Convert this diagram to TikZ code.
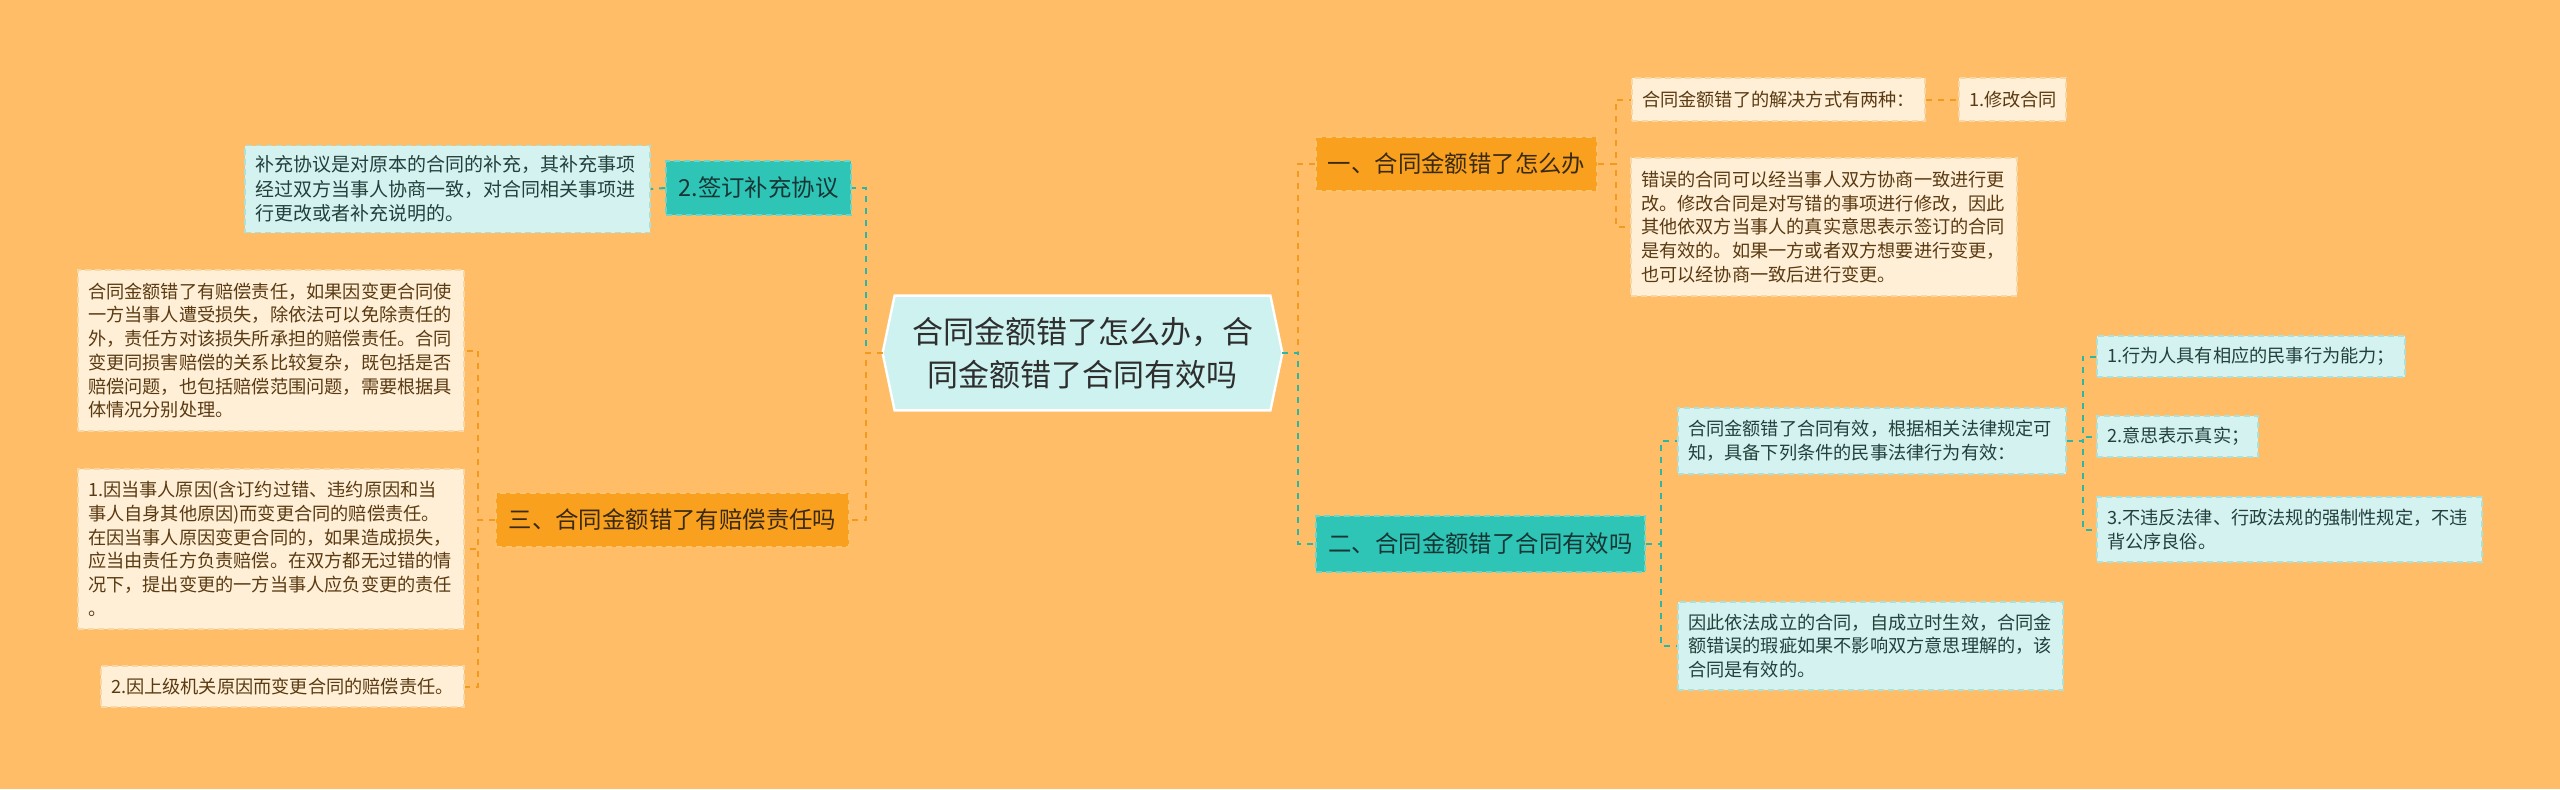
\documentclass[tikz,border=0pt]{standalone}
\usepackage{fontspec}
\setmainfont{Noto Sans CJK SC}
\usetikzlibrary{backgrounds, positioning}
\definecolor{pagebg}{HTML}{FFBD68}
\definecolor{rootfill}{HTML}{CDF2EF}
\definecolor{roottext}{HTML}{2E2E2E}
\definecolor{orangefill}{HTML}{F9A11F}
\definecolor{orangeline}{HTML}{FBC36E}
\definecolor{orangetext}{HTML}{3A2A12}
\definecolor{tealfill}{HTML}{2EC4B6}
\definecolor{tealline}{HTML}{6AD6CB}
\definecolor{tealtext}{HTML}{173633}
\definecolor{creamfill}{HTML}{FFEFD6}
\definecolor{creamline}{HTML}{F6D7A7}
\definecolor{creamtext}{HTML}{5A3A12}
\definecolor{cyanfill}{HTML}{D4F3F0}
\definecolor{cyanline}{HTML}{A9E2DC}
\definecolor{cyantext}{HTML}{24403D}
\definecolor{linkorange}{HTML}{F29A1F}
\definecolor{linkteal}{HTML}{2DB5A6}
\tikzset{
  rootbox/.style={
    rectangle,
    minimum width=199.5pt,
    minimum height=57pt,
    inner sep=0pt,
    align=center,
    text=roottext,
    font=\fontsize{15.5}{21.5}\selectfont
  },
  mainbox/.style={
    rectangle,
    line width=0.8pt,
    dash pattern=on 3pt off 2pt,
    minimum height=27pt,
    inner sep=0pt,
    align=center,
    font=\fontsize{11.7}{14}\selectfont
  },
  orangebox/.style={mainbox, fill=orangefill, draw=orangeline, text=orangetext},
  tealbox/.style={mainbox, fill=tealfill, draw=tealline, text=tealtext},
  leaf/.style={
    rectangle,
    line width=0.7pt,
    dash pattern=on 3pt off 2pt,
    inner xsep=5pt,
    inner ysep=0pt,
    align=left,
    font=\fontsize{9.1}{11.85}\selectfont
  },
  creamleaf/.style={leaf, fill=creamfill, draw=creamline, text=creamtext},
  cyanleaf/.style={leaf, fill=cyanfill, draw=cyanline, text=cyantext},
  linko/.style={draw=linkorange, line width=1pt, dash pattern=on 3pt off 3pt},
  linkt/.style={draw=linkteal, line width=1pt, dash pattern=on 3pt off 3pt}
}

\begin{document}
\begin{tikzpicture}[x=0.5pt, y=-0.5pt]

\begin{scope}[on background layer]
  \fill[pagebg] (0,0) rectangle (2560,789);
\end{scope}
\useasboundingbox (0,0) rectangle (2560,789);

\node[rootbox] (root) at (1082.5,353) {合同金额错了怎么办，合\\同金额错了合同有效吗};

% left side
\node[tealbox, minimum width=92.5pt] (sign) at (758.5,188) {2.签订补充协议};
\node[cyanleaf, text width=192.5pt, minimum height=43.5pt] (supp) at (447.5,189) {\fontsize{9.5}{12.6}\selectfont 补充协议是对原本的合同的补充，其补充事项\\经过双方当事人协商一致，对合同相关事项进\\行更改或者补充说明的。};

\node[orangebox, minimum width=176.5pt] (san) at (672.5,520) {三、合同金额错了有赔偿责任吗};
\node[creamleaf, text width=183pt, minimum height=80.5pt] (comp) at (271,350.5) {合同金额错了有赔偿责任，如果因变更合同使\\一方当事人遭受损失，除依法可以免除责任的\\外，责任方对该损失所承担的赔偿责任。合同\\变更同损害赔偿的关系比较复杂，既包括是否\\赔偿问题，也包括赔偿范围问题，需要根据具\\体情况分别处理。};
\node[creamleaf, text width=183pt, minimum height=80pt] (rsn1) at (271,549) {1.因当事人原因(含订约过错、违约原因和当\\事人自身其他原因)而变更合同的赔偿责任。\\在因当事人原因变更合同的，如果造成损失，\\应当由责任方负责赔偿。在双方都无过错的情\\况下，提出变更的一方当事人应负变更的责任\\。};
\node[creamleaf, text width=171.5pt, minimum height=20.5pt] (rsn2) at (282.5,686.5) {2.因上级机关原因而变更合同的赔偿责任。};

% right side
\node[orangebox, minimum width=140.5pt] (yi) at (1456.5,164) {一、合同金额错了怎么办};
\node[creamleaf, text width=136.5pt, minimum height=21.5pt] (ways) at (1778.5,99.5) {合同金额错了的解决方式有两种：};
\node[creamleaf, text width=43.5pt, minimum height=21.5pt] (modify) at (2012.5,99.5) {1.修改合同};
\node[creamleaf, text width=183pt, minimum height=69pt] (wrong) at (1824,227) {错误的合同可以经当事人双方协商一致进行更\\改。修改合同是对写错的事项进行修改，因此\\其他依双方当事人的真实意思表示签订的合同\\是有效的。如果一方或者双方想要进行变更，\\也可以经协商一致后进行变更。};

\node[tealbox, minimum width=164.5pt, minimum height=28pt] (er) at (1480.5,544) {二、合同金额错了合同有效吗};
\node[cyanleaf, text width=184pt, minimum height=33pt] (valid) at (1872,441) {合同金额错了合同有效，根据相关法律规定可\\知，具备下列条件的民事法律行为有效：};
\node[cyanleaf, text width=144pt, minimum height=20.5pt] (cond1) at (2251,356.5) {1.行为人具有相应的民事行为能力；};
\node[cyanleaf, text width=70.5pt, minimum height=20.5pt] (cond2) at (2177.5,436.5) {2.意思表示真实；};
\node[cyanleaf, text width=182.5pt, minimum height=32.5pt] (cond3) at (2289.5,529.5) {3.不违反法律、行政法规的强制性规定，不违\\背公序良俗。};
\node[cyanleaf, text width=182.5pt, minimum height=44pt] (hence) at (1870.5,646) {因此依法成立的合同，自成立时生效，合同金\\额错误的瑕疵如果不影响双方意思理解的，该\\合同是有效的。};

\begin{scope}[on background layer]
  \filldraw[fill=rootfill, draw=white, line width=1.2pt]
    (root.west) -- ([xshift=6pt]root.north west) -- ([xshift=-6pt]root.north east)
    -- (root.east) -- ([xshift=-6pt]root.south east) -- ([xshift=6pt]root.south west) -- cycle;
\end{scope}

\draw[linkt] (root.west) -- ++(-17,0) |- (sign.east);
\draw[linko] (root.west) -- ++(-17,0) |- (san.east);
\draw[linkt] (sign.west) -- (supp.east);
\foreach \leaf in {comp, rsn1, rsn2}
  \draw[linko] (san.west) -- ++(-17,0) |- (\leaf.east);

\draw[linko] (root.east) -- ++(16,0) |- (yi.west);
\draw[linkt] (root.east) -- ++(16,0) |- (er.west);
\foreach \leaf in {ways, wrong}
  \draw[linko] (yi.east) -- ++(18,0) |- (\leaf.west);
\draw[linko] (ways.east) -- (modify.west);
\foreach \leaf in {valid, hence}
  \draw[linkt] (er.east) -- ++(15,0) |- (\leaf.west);
\foreach \leaf in {cond1, cond2, cond3}
  \draw[linkt] (valid.east) -- ++(16,0) |- (\leaf.west);

\end{tikzpicture}
\end{document}
